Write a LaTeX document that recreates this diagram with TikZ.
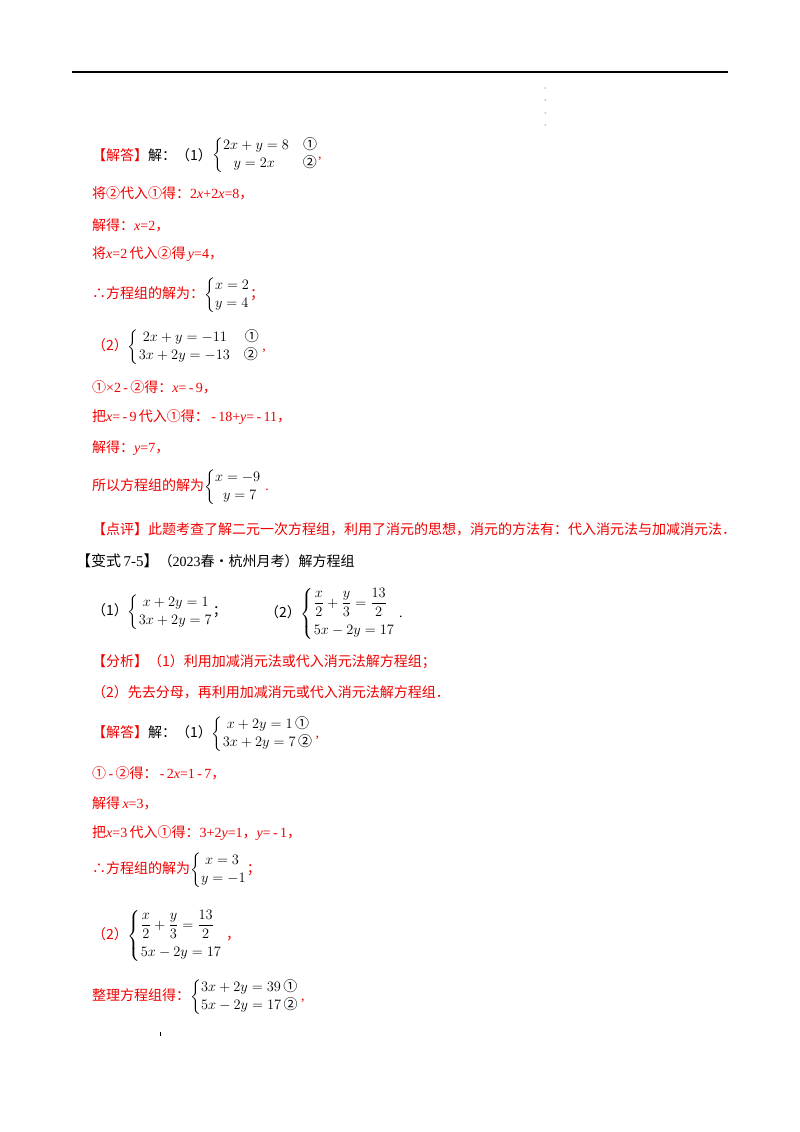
\documentclass[tikz,border=0pt]{standalone}
\usepackage{fontspec}
\setmainfont{Liberation Serif}
\newfontfamily\cjk{Noto Sans CJK SC}
\usepackage{amsmath}
\definecolor{ansred}{RGB}{240,0,0}
\newcommand{\cn}[1]{{\cjk #1}}
\renewcommand{\arraystretch}{1.1}
\begin{document}
\begin{tikzpicture}[x=1pt,y=-1pt,
  txt/.style={anchor=west,inner sep=0pt,font=\fontsize{14}{16}\selectfont,text=ansred},
  blk/.style={anchor=west,inner sep=0pt,font=\fontsize{14}{16}\selectfont,text=black}]
\useasboundingbox (0,0) rectangle (800,1132);
\draw[line width=1.6pt] (72,72) -- (728,72);
\foreach \yy in {88,100,113,125} \fill (545,\yy) circle (0.5);
\fill (160,1032) rectangle (161,1036);

\node[txt] (a1) at (92,155) {\cn{【解答】}\textcolor{black}{\cn{解：（1）}}};
\node[blk,anchor=west] (s1) at (a1.east) {$\left\{\begin{array}{@{}l@{}}2x+y=8\quad\text{\cn{①}}\\\;\;\,y=2x\qquad\text{\cn{②}}\end{array}\right.$\textcolor{ansred}{,}};
\node[txt] (l2) at (92,193) {\cn{将②代入①得：}2\textit{x}+2\textit{x}=8\cn{，}};
\node[txt] (l3) at (92,225) {\cn{解得：}\textit{x}=2\cn{，}};
\node[txt] (l4) at (92,254) {\cn{将}\textit{x}=2\,\cn{代入②得}\,\textit{y}=4\cn{，}};
\node[txt] (l5) at (92,295) {\cn{∴方程组的解为：}\textcolor{black}{$\left\{\begin{array}{@{}l@{}}x=2\\y=4\end{array}\right.$}\cn{；}};
\node[txt] (l6) at (92,347) {\cn{（2）}\textcolor{black}{$\left\{\begin{array}{@{}l@{}}\;2x+y=-11\quad\;\text{\cn{①}}\\3x+2y=-13\quad\text{\cn{②}}\end{array}\right.$}\,,};
\node[txt] (l7) at (92,387) {\cn{①}×2\,-\,\cn{②得：}\textit{x}=\,-\,9\cn{，}};
\node[txt] (l8) at (92,417) {\cn{把}\textit{x}=\,-\,9\,\cn{代入①得：}\,-\,18+\textit{y}=\,-\,11\cn{，}};
\node[txt] (l9) at (92,448) {\cn{解得：}\textit{y}=7\cn{，}};
\node[txt] (l10) at (92,487) {\cn{所以方程组的解为}\textcolor{black}{$\left\{\begin{array}{@{}l@{}}x=-9\\\;\;y=7\end{array}\right.$}\;.};
\node[txt] (l11) at (92,529) {\cn{【点评】此题考查了解二元一次方程组，利用了消元的思想，消元的方法有：代入消元法与加减消元法．}};
\node[blk] (v) at (76,561) {{\fontsize{15}{18}\selectfont\cn{【变式}\,7-5\cn{】}}\cn{（}2023\cn{春•杭州月考）解方程组}};
\node[blk] (q1) at (92,612) {\cn{（1）}$\left\{\begin{array}{@{}l@{}}\;x+2y=1\\3x+2y=7\end{array}\right.$\cn{；}};
\node[blk] (q2) at (265,614) {\cn{（2）}$\left\{\begin{array}{@{}l@{}}\dfrac{x}{2}+\dfrac{y}{3}=\dfrac{13}{2}\\[10pt]5x-2y=17\end{array}\right.$\;.};
\node[txt] (f1) at (92,662) {\cn{【分析】（1）利用加减消元法或代入消元法解方程组；}};
\node[txt] (f2) at (92,692) {\cn{（2）先去分母，再利用加减消元或代入消元法解方程组．}};
\node[txt] (b1) at (92,734) {\cn{【解答】}\textcolor{black}{\cn{解：（1）}$\left\{\begin{array}{@{}l@{}}\;x+2y=1\,\text{\cn{①}}\\3x+2y=7\,\text{\cn{②}}\end{array}\right.$}\,,};
\node[txt] (b2) at (92,773) {\cn{①}\,-\,\cn{②得：}\,-\,2\textit{x}=1\,-\,7\cn{，}};
\node[txt] (b3) at (92,803) {\cn{解得}\,\textit{x}=3\cn{，}};
\node[txt] (b4) at (92,833) {\cn{把}\textit{x}=3\,\cn{代入①得：}3+2\textit{y}=1\cn{，}\textit{y}=\,-\,1\cn{，}};
\node[txt] (b5) at (92,870) {\cn{∴方程组的解为}\textcolor{black}{$\left\{\begin{array}{@{}l@{}}\;x=3\\y=-1\end{array}\right.$}\cn{；}};
\node[txt] (b6) at (92,936) {\cn{（2）}\textcolor{black}{$\left\{\begin{array}{@{}l@{}}\dfrac{x}{2}+\dfrac{y}{3}=\dfrac{13}{2}\\[10pt]5x-2y=17\end{array}\right.$}\;\cn{，}};
\node[txt] (b7) at (92,997) {\cn{整理方程组得：}\textcolor{black}{$\left\{\begin{array}{@{}l@{}}3x+2y=39\,\text{\cn{①}}\\5x-2y=17\,\text{\cn{②}}\end{array}\right.$}\,,};
\end{tikzpicture}
\end{document}
